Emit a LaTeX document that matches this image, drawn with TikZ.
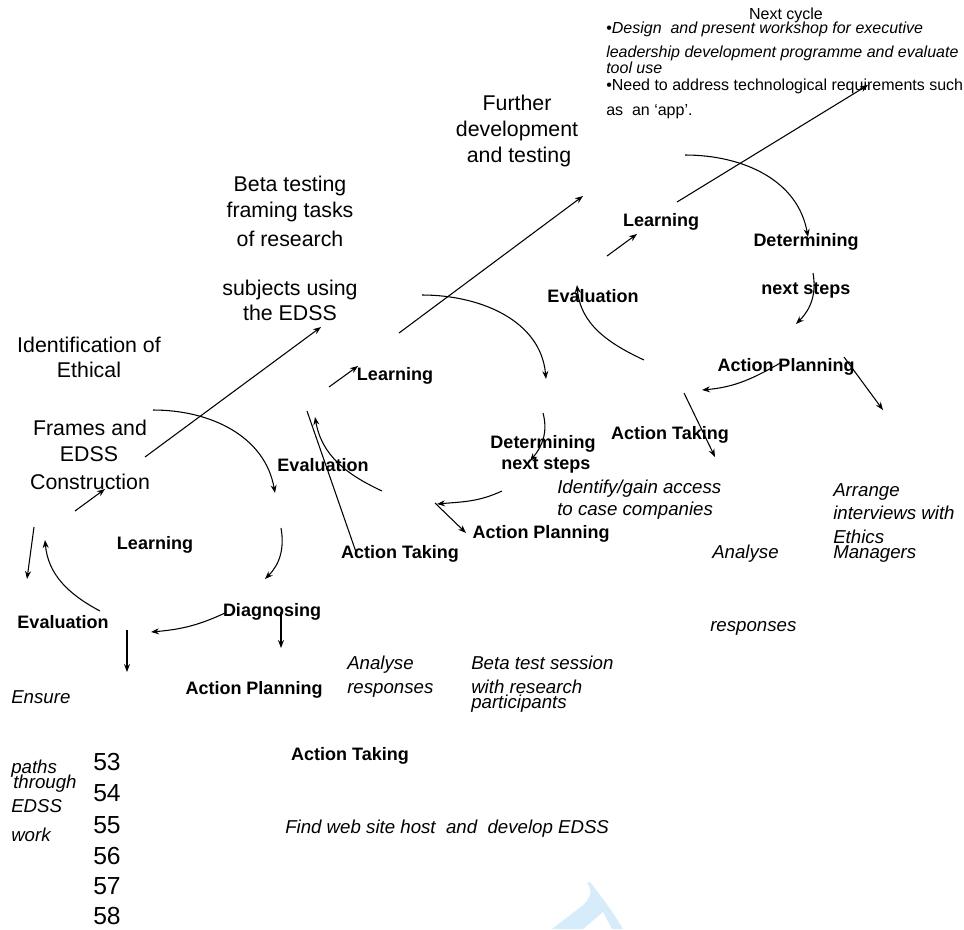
\documentclass[tikz,border=0pt]{standalone}
\usepackage{fontspec}
\setmainfont{Liberation Sans}
\usetikzlibrary{
	arrows.meta
}
\definecolor{wmblue}{RGB}{214,236,250}
\tikzset{
	every edge/.append style={
		-{Stealth[length=6pt,width=4.5pt]},
		line width=0.8pt
	},
	txt/.style={inner sep=0pt,text depth=0pt},
	phase/.style={txt,text height=11.5pt,font=\fontsize{16}{19}\selectfont},
	stage/.style={txt,text height=9.7pt,font=\fontsize{13.5}{16}\selectfont\bfseries},
	task/.style={txt,anchor=west,text height=10pt,font=\fontsize{14}{16}\selectfont\itshape},
	plan/.style={txt,anchor=west,text height=8.6pt,font=\fontsize{12}{14}\selectfont},
	lineno/.style={txt,anchor=west,text height=13.3pt,font=\fontsize{18.5}{21}\selectfont}
}

\begin{document}
\begin{tikzpicture}[x=0.75pt,y=-0.75pt]
	\useasboundingbox (0,0) rectangle (964,929);
	% watermark
	\fill[wmblue] (587,883) .. controls (593,890) and (591,898) .. (582,906)
		-- (552,929) -- (583,929) -- (603,912) -- (612,929) -- (623,929)
		.. controls (612,910) and (600,895) .. (590,882) -- cycle;

	\draw
		% phases
		node[phase] (idA1) at (89,345) {Identification of}
		node[phase] (idA2) at (89,370) {Ethical}
		node[phase] (idA3) at (90,428) {Frames and}
		node[phase] (idA4) at (89,454) {EDSS}
		node[phase] (idA5) at (90,482) {Construction}
		node[phase] (idB1) at (290,184) {Beta testing}
		node[phase] (idB2) at (290,210) {framing tasks}
		node[phase] (idB3) at (290,239) {of research}
		node[phase] (idB4) at (290,288) {subjects using}
		node[phase] (idB5) at (290,313) {the EDSS}
		node[phase] (idC1) at (517,103) {Further}
		node[phase] (idC2) at (517,129) {development}
		node[phase] (idC3) at (519,155) {and testing}

		% first cycle
		node[stage] (lrnA) at (155,543) {Learning}
		node[stage] (evlA) at (63,622)  {Evaluation}
		node[stage] (dgnA) at (272,610) {Diagnosing}
		node[stage] (apA)  at (254,688) {Action Planning}
		node[stage] (atA)  at (350,754) {Action Taking}

		% second cycle
		node[stage] (lrnB) at (395,374) {Learning}
		node[stage] (evlB) at (323,465) {Evaluation}
		node[stage] (dtmB) at (543,442) {Determining}
		node[stage] (nxtB) at (546,463) {next steps}
		node[stage] (apB)  at (541,532) {Action Planning}
		node[stage] (atB)  at (400,552) {Action Taking}

		% third cycle
		node[stage] (lrnC) at (661,220) {Learning}
		node[stage] (dtmC) at (806,240) {Determining}
		node[stage] (nxtC) at (806,288) {next steps}
		node[stage] (evlC) at (593,296) {Evaluation}
		node[stage] (apC)  at (786,365) {Action Planning}
		node[stage] (atC)  at (670,433) {Action Taking}

		% tasks
		node[task] (ensA1) at (11,697) {Ensure}
		node[task] (ensA2) at (11,767) {paths}
		node[task] (ensA3) at (13,782) {through}
		node[task] (ensA4) at (11,806) {EDSS}
		node[task] (ensA5) at (11,835) {work}
		node[task] (fndA)  at (285,827) {Find web site host\ \ and\ \ develop EDSS}
		node[task] (anlB1) at (347,663) {Analyse}
		node[task] (anlB2) at (347,687) {responses}
		node[task] (btsB1) at (471,663) {Beta test session}
		node[task] (btsB2) at (471,687) {with research}
		node[task] (btsB3) at (471,702) {participants}
		node[task] (idfC1) at (557,487) {Identify/gain access}
		node[task] (idfC2) at (557,509) {to case companies}
		node[task] (anlC1) at (712,552) {Analyse}
		node[task] (anlC2) at (710,625) {responses}
		node[task] (arrC1) at (833,490) {Arrange}
		node[task] (arrC2) at (833,513) {interviews with}
		node[task] (arrC3) at (833,537) {Ethics}
		node[task] (arrC4) at (833,552) {Managers}

		% next cycle
		node[plan,anchor=center] (nxt) at (786,14) {Next cycle}
		node[plan] (plan1) at (606,28)  {\textbullet\textit{Design\ \ and present workshop for executive}}
		node[plan] (plan2) at (606,52)  {\textit{leadership development programme and evaluate}}
		node[plan] (plan3) at (606,68)  {\textit{tool use}}
		node[plan] (plan4) at (606,85)  {\textbullet Need to address technological requirements such}
		node[plan] (plan5) at (606,110) {as\ \ an ‘app’.}

		% line numbers
		node[lineno] (ln53) at (93,762) {53}
		node[lineno] (ln54) at (93,793) {54}
		node[lineno] (ln55) at (93,825) {55}
		node[lineno] (ln56) at (93,856) {56}
		node[lineno] (ln57) at (93,886) {57}
		node[lineno] (ln58) at (93,916) {58}
	;

	% arrow ends
	\coordinate (A1s) at (145,457); \coordinate (A1e) at (321,327);
	\coordinate (A2s) at (75,511);  \coordinate (A2e) at (105,489);
	\coordinate (A3s) at (153,410); \coordinate (A3e) at (275,493);
	\coordinate (A4s) at (281,528); \coordinate (A4e) at (265,579);
	\coordinate (A5s) at (225,613); \coordinate (A5e) at (151,632);
	\coordinate (A6s) at (100,611); \coordinate (A6e) at (45,540);
	\coordinate (A7s) at (34,527);  \coordinate (A7e) at (27,579);
	\coordinate (A8s) at (281,612); \coordinate (A8e) at (281,648);
	\coordinate (A9s) at (127,630); \coordinate (A9e) at (127,672);

	\coordinate (B1s) at (399,333); \coordinate (B1e) at (583,196);
	\coordinate (B2s) at (329,387); \coordinate (B2e) at (358,366);
	\coordinate (B3s) at (422,295); \coordinate (B3e) at (546,379);
	\coordinate (B4s) at (543,413); \coordinate (B4e) at (530,461);
	\coordinate (B5s) at (502,491); \coordinate (B5e) at (437,504);
	\coordinate (B6s) at (382,491); \coordinate (B6e) at (315,417);
	\coordinate (B7s) at (435,503); \coordinate (B7e) at (466,533);
	\coordinate (B8s) at (307,411); \coordinate (B8e) at (356,552);

	\coordinate (C1s) at (677,202); \coordinate (C1e) at (868,85);
	\coordinate (C2s) at (607,256); \coordinate (C2e) at (637,234);
	\coordinate (C3s) at (685,155); \coordinate (C3e) at (808,237);
	\coordinate (C4s) at (813,273); \coordinate (C4e) at (796,324);
	\coordinate (C5s) at (782,362); \coordinate (C5e) at (702,390);
	\coordinate (C6s) at (644,360); \coordinate (C6e) at (577,285);
	\coordinate (C7s) at (684,393); \coordinate (C7e) at (715,457);
	\coordinate (C8s) at (844,357); \coordinate (C8e) at (883,410);

	\draw
		(A1s) edge                   (A1e)
		(A2s) edge                   (A2e)
		(A3s) edge[out=0,in=100]     (A3e)
		(A4s) edge[out=-80,in=45]    (A4e)
		(A5s) edge[out=-155,in=5]    (A5e)
		(A6s) edge[out=152,in=-85]   (A6e)
		(A7s) edge                   (A7e)
		(A8s) edge[line width=1.3pt] (A8e)
		(A9s) edge                   (A9e)

		(B1s) edge                   (B1e)
		(B2s) edge                   (B2e)
		(B3s) edge[out=0,in=95]      (B3e)
		(B4s) edge[out=-75,in=50]    (B4e)
		(B5s) edge[out=-155,in=5]    (B5e)
		(B6s) edge[out=155,in=-80]   (B6e)
		(B7s) edge                   (B7e)
		(B8s) edge[-]                (B8e)

		(C1s) edge                   (C1e)
		(C2s) edge                   (C2e)
		(C3s) edge[out=0,in=100]     (C3e)
		(C4s) edge[out=-80,in=45]    (C4e)
		(C5s) edge[out=-150,in=5]    (C5e)
		(C6s) edge[out=155,in=-85]   (C6e)
		(C7s) edge                   (C7e)
		(C8s) edge                   (C8e)
	;
\end{tikzpicture}
\end{document}
